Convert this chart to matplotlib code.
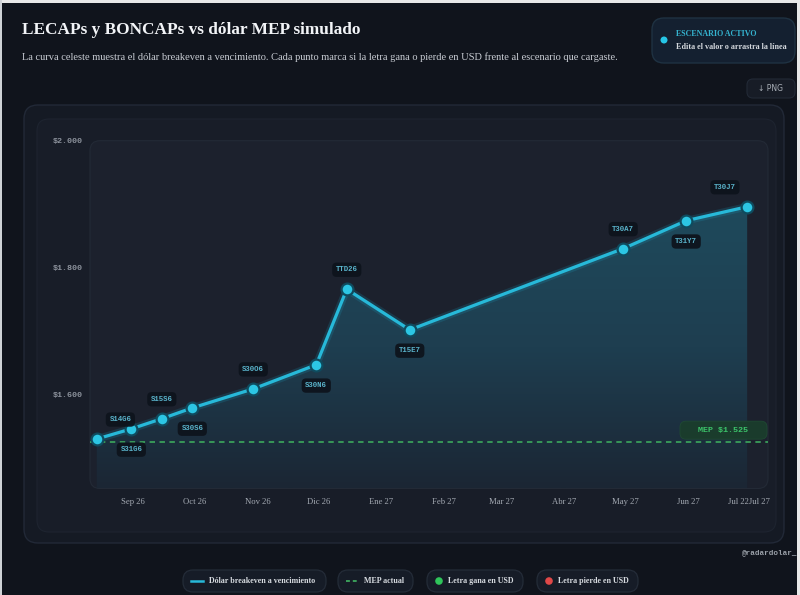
import matplotlib
matplotlib.use("Agg")
import matplotlib.pyplot as plt
import matplotlib.dates as mdates
from matplotlib.patches import FancyBboxPatch, Polygon, Ellipse
from matplotlib.colors import LinearSegmentedColormap
import numpy as np
import datetime as dt

# ---------------- data ----------------
tickers = ["S14G6", "S31G6", "S15S6", "S30S6", "S30O6", "S30N6",
           "TTD26", "T15E7", "T30A7", "T31Y7", "T30J7"]
maturities = ["2026-08-14", "2026-08-31", "2026-09-15", "2026-09-30", "2026-10-30",
              "2026-11-30", "2026-12-15", "2027-01-15", "2027-04-30", "2027-05-31",
              "2027-06-30"]
breakeven = [1530, 1546, 1562, 1579, 1609, 1647, 1766, 1702, 1830, 1874, 1896]
mep_actual = 1525
ytick_values = [1600, 1800, 2000]
ytick_labels = ["$1.600", "$1.800", "$2.000"]
xtick_dates = ["2026-09-01", "2026-10-01", "2026-11-01", "2026-12-01", "2027-01-01",
               "2027-02-01", "2027-03-01", "2027-04-01", "2027-05-01", "2027-06-01",
               "2027-07-01"]
xtick_labels = ["Sep 26", "Oct 26", "Nov 26", "Dic 26", "Ene 27", "Feb 27", "Mar 27",
                "Abr 27", "May 27", "Jun 27", "Jul 22Jul 27"]
legend_items = ["Dólar breakeven a vencimiento", "MEP actual",
                "Letra gana en USD", "Letra pierde en USD"]

title = "LECAPs y BONCAPs vs dólar MEP simulado"
subtitle = ("La curva celeste muestra el dólar breakeven a vencimiento. Cada punto marca si "
            "la letra gana o pierde en USD frente al escenario que cargaste.")

# ---------------- figure ----------------
W, H = 800, 595
BG = "#10141c"
fig = plt.figure(figsize=(W / 100, H / 100), dpi=100, facecolor=BG)

def fx(x):
    return x / W

def fy(y):
    return 1 - y / H

def rbox(x0, y0, x1, y1, fc, ec, r=10, lw=1.0, z=0, alpha=None):
    p = FancyBboxPatch((fx(x0), fy(y1)), fx(x1) - fx(x0), fy(y0) - fy(y1),
                       boxstyle=f"round,pad=0,rounding_size={r / W}",
                       transform=fig.transFigure, facecolor=fc, edgecolor=ec,
                       linewidth=lw, zorder=z, mutation_aspect=W / H, alpha=alpha)
    fig.patches.append(p)
    return p

def dot(x, y, r, col):
    fig.patches.append(Ellipse((fx(x), fy(y)), 2 * r / W, 2 * r / H,
                               transform=fig.transFigure, facecolor=col,
                               edgecolor="none", zorder=1))

SERIF = ["Liberation Serif", "DejaVu Serif"]
MONO = ["Liberation Mono", "DejaVu Sans Mono"]

# thin light frame (screenshot edge)
fig.patches.append(plt.Rectangle((0, fy(3)), 1, fy(0) - fy(3), transform=fig.transFigure,
                                 facecolor="#e8e8e8", edgecolor="none", zorder=0))
fig.patches.append(plt.Rectangle((fx(797), 0), fx(3), 1, transform=fig.transFigure,
                                 facecolor="#e8e8e8", edgecolor="none", zorder=0))
fig.patches.append(plt.Rectangle((0, 0), fx(2), 1, transform=fig.transFigure,
                                 facecolor="#cfd2d6", edgecolor="none", zorder=0))

# header
fig.text(fx(22), fy(30), title, family=SERIF, fontweight="bold", fontsize=12.4,
         color="#f2f4f7", va="center", ha="left")
fig.text(fx(22), fy(57), subtitle, family=SERIF, fontsize=7.5,
         color="#c9cdd4", va="center", ha="left")

# scenario box
rbox(652, 18, 795, 63, "#142030", "#1f3242", r=12, lw=1.0, z=0)
dot(664, 40, 3.5, "#26c6e6")
fig.text(fx(676), fy(34), "ESCENARIO ACTIVO", family=SERIF, fontweight="bold",
         fontsize=5.8, color="#35b4d0", va="center", ha="left")
fig.text(fx(676), fy(47), "Edita el valor o arrastra la línea", family=SERIF,
         fontweight="bold", fontsize=5.9, color="#d5d9de", va="center", ha="left")

# PNG button
rbox(747, 79, 795, 98, "#171c26", "#222a36", r=6, lw=0.8, z=0)
fig.text(fx(771), fy(88.5), "↓ PNG", family=["DejaVu Sans"], fontsize=5.5,
         color="#aab0b8", va="center", ha="center")

# cards
rbox(24, 105, 784, 543, "#151a24", "#222937", r=14, lw=1.0, z=0)
rbox(37, 119, 776, 532, "#181d28", "#1e2430", r=12, lw=0.8, z=0)

# ---------------- axes ----------------
L, R, T, B = 90, 768, 140.7, 488.5
rbox(L, T, R, B, "#1c212d", "#232a36", r=10, lw=0.8, z=0)
ax = fig.add_axes([fx(L), fy(B), fx(R) - fx(L), fy(T) - fy(B)])
ax.set_zorder(2)
ax.set_facecolor("none")
for s in ax.spines.values():
    s.set_visible(False)

dates = [dt.datetime.strptime(d, "%Y-%m-%d") for d in maturities]
xd = mdates.date2num(dates)
x0 = mdates.date2num(dt.datetime(2026, 8, 10, 16))
x1 = mdates.date2num(dt.datetime(2027, 7, 10, 6))
y0, y1 = 1452, 2000
ax.set_xlim(x0, x1)
ax.set_ylim(y0, y1)

# gradient fill under curve
verts = [(xd[0], y0)] + list(zip(xd, breakeven)) + [(xd[-1], y0)]
poly = Polygon(verts, closed=True, facecolor="none", edgecolor="none")
ax.add_patch(poly)
grad = np.linspace(1, 0, 256).reshape(-1, 1)
cmap = LinearSegmentedColormap.from_list("g", ["#1b2634", "#1e3e50", "#1f4a5c"])
im = ax.imshow(grad, extent=[x0, x1, y0, max(breakeven)], aspect="auto",
               cmap=cmap, origin="upper", zorder=2)
im.set_clip_path(poly)

# MEP line
ax.axhline(mep_actual, color="#3a9e5a", lw=1.3, ls=(0, (3, 2.5)), zorder=3)

# breakeven line with glow
ax.plot(xd, breakeven, color="#1aa3c4", lw=5.5, alpha=0.18, zorder=4,
        solid_capstyle="round")
ax.plot(xd, breakeven, color="#27b9d9", lw=2.3, zorder=5, solid_joinstyle="round")
ax.plot(xd, breakeven, ls="none", marker="o", ms=8.5, mfc="#2cc6e4",
        mec="#0f4b5e", mew=1.6, zorder=6)

# point labels
for i, (t, xv, yv) in enumerate(zip(tickers, xd, breakeven)):
    above = (i % 2 == 0)
    dy = 14 if above else -15
    dx = 0
    if i == 0:
        dx = 17
    if i == len(tickers) - 1:
        dx = -16
    ax.annotate(t, (xv, yv), xytext=(dx, dy), textcoords="offset points",
                ha="center", va="center", family=MONO, fontweight="bold",
                fontsize=5.3, color="#5ab4cc", zorder=7,
                bbox=dict(boxstyle="round,pad=0.5,rounding_size=0.6",
                          fc="#0e141d", ec="none", alpha=0.95))

# MEP label box, anchored to the MEP value
ymep = T + (y1 - mep_actual) / (y1 - y0) * (B - T)
rbox(680, ymep - 21, R - 1, ymep - 3, "#1a3d2c", "#1f4a33", r=6, lw=0.6, z=3,
     alpha=0.95)
fig.text(fx(723), fy(ymep - 12), f"MEP ${mep_actual // 1000}.{mep_actual % 1000:03d}",
         family=MONO, fontweight="bold", fontsize=6, color="#3cc46a",
         ha="center", va="center", zorder=4)

# ticks
ax.set_yticks(ytick_values)
ax.set_yticklabels(ytick_labels, family=MONO, fontweight="bold", fontsize=6,
                   color="#8c929c")
xt = [mdates.date2num(dt.datetime.strptime(d, "%Y-%m-%d")) for d in xtick_dates]
ax.set_xticks(xt)
ax.set_xticklabels(xtick_labels, family=SERIF, fontsize=6.2, color="#a3a9b2")
ax.tick_params(axis="both", length=0)
ax.tick_params(axis="y", pad=5)
ax.tick_params(axis="x", pad=7)

# watermark
fig.text(fx(797), fy(553), "@radardolar_", family=MONO, fontweight="bold",
         fontsize=5.5, color="#9aa0a8", ha="right", va="center")

# legend pills
pills = [(183, 326), (338, 413), (427, 523), (537, 638)]
py0, py1 = 570, 592
for k, (lab, (a, b)) in enumerate(zip(legend_items, pills)):
    rbox(a, py0, b, py1, "#161c27", "#242c38", r=10, lw=0.9, z=0)
    cyp = (py0 + py1) / 2
    cy = fy(cyp)
    if k == 0:
        fig.lines.append(plt.Line2D([fx(a + 8), fx(a + 20)], [cy, cy], color="#27b9d9",
                                    lw=1.8, transform=fig.transFigure))
        tx = a + 26
    elif k == 1:
        fig.lines.append(plt.Line2D([fx(a + 8), fx(a + 20)], [cy, cy], color="#3a9e5a",
                                    lw=1.4, ls=(0, (2, 1.5)), transform=fig.transFigure))
        tx = a + 26
    else:
        col = "#2fc55a" if k == 2 else "#e04848"
        dot(a + 12, cyp, 3.8, col)
        tx = a + 21
    fig.text(fx(tx), cy, lab, family=SERIF, fontweight="bold", fontsize=5.8,
             color="#d7dbe0", ha="left", va="center")

fig.savefig("out.png", dpi=100, facecolor=BG)
